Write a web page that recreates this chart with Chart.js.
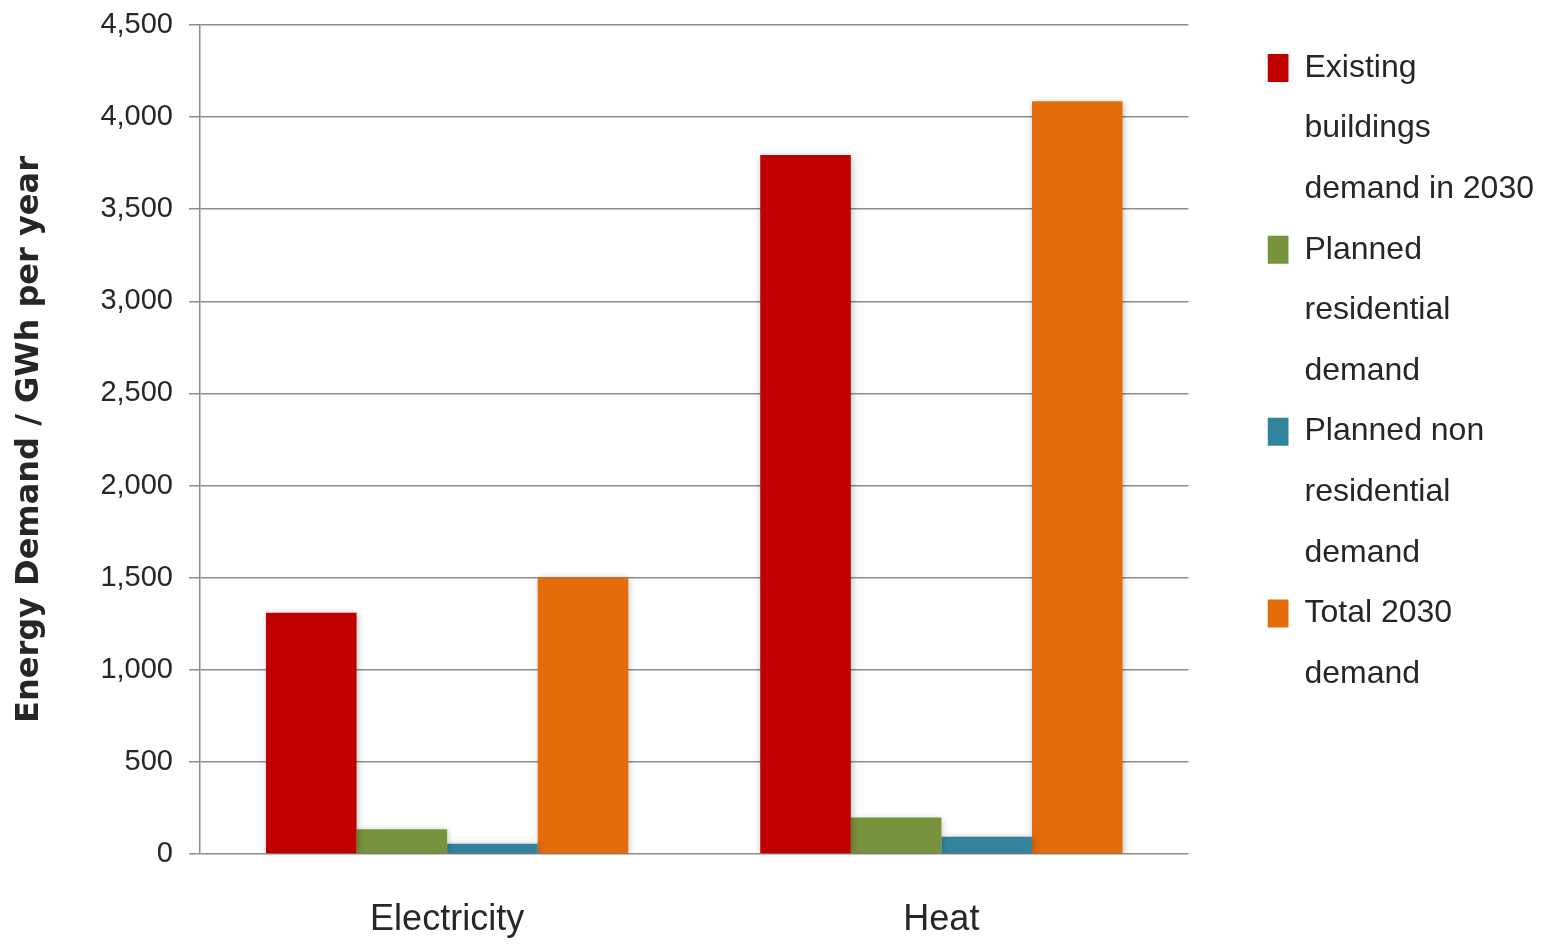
<!DOCTYPE html>
<html>
<head>
<meta charset="utf-8">
<title>Energy Demand 2030</title>
<script src="https://cdn.jsdelivr.net/npm/chart.js@4.4.1/dist/chart.umd.min.js"></script>
<style>
  html, body { margin: 0; padding: 0; background: #ffffff; }
  #wrap { position: relative; width: 1562px; height: 944px; }
</style>
</head>
<body>
<div id="wrap"><canvas id="chart"></canvas></div>
<script>
// Categories along the x axis
const categories = ['Electricity', 'Heat'];

// Series values, GWh per year
const existingBuildings2030 = [1310, 3795];
const plannedResidential = [135, 198];
const plannedNonResidential = [56, 93];
const total2030 = [1501, 4086];

// Series names, and how each one wraps in the legend
const seriesNames = [
  'Existing buildings demand in 2030',
  'Planned residential demand',
  'Planned non residential demand',
  'Total 2030 demand'
];
const legendLines = [
  ['Existing', 'buildings', 'demand in 2030'],
  ['Planned', 'residential', 'demand'],
  ['Planned non', 'residential', 'demand'],
  ['Total 2030', 'demand']
];

// Y axis range and tick spacing
const yMin = 0;
const yMax = 4500;
const yStep = 500;
const yTitle = 'Energy Demand / GWh per year';

const seriesColors = ['#C00000', '#77933C', '#31849B', '#E46C0A'];
const seriesValues = [existingBuildings2030, plannedResidential, plannedNonResidential, total2030];

const gridColor = '#8c8c8c';
const textColor = '#262626';

// Soft drop shadow behind the bars
const barShadow = {
  id: 'barShadow',
  beforeDatasetsDraw(chart) {
    const ctx = chart.ctx;
    ctx.save();
    ctx.shadowColor = 'rgba(0,0,0,0.28)';
    ctx.shadowBlur = 7;
    ctx.shadowOffsetX = 1;
    ctx.shadowOffsetY = 1;
  },
  afterDatasetsDraw(chart) {
    chart.ctx.restore();
  }
};

// Places the legend a little away from the plot, level with the first gridlines
const legendOffset = {
  id: 'legendOffset',
  afterLayout(chart) {
    const lg = chart.legend;
    if (!lg) return;
    const dx = 79, dy = 27;
    lg.left += dx; lg.right += dx;
    lg.top += dy; lg.bottom += dy;
  }
};

const ctx = document.getElementById('chart').getContext('2d');
new Chart(ctx, {
  type: 'bar',
  data: {
    labels: categories,
    datasets: seriesValues.map((vals, i) => ({
      label: seriesNames[i],
      data: vals,
      backgroundColor: seriesColors[i],
      borderWidth: 0,
      categoryPercentage: 0.733,
      barPercentage: 1.0
    }))
  },
  plugins: [barShadow, legendOffset],
  options: {
    responsive: true,
    maintainAspectRatio: false,
    animation: false,
    devicePixelRatio: 1,
    layout: { padding: { top: 25, right: 97, bottom: 0, left: 0 } },
    plugins: {
      tooltip: { enabled: false },
      legend: {
        position: 'right',
        align: 'start',
        labels: {
          boxWidth: 21,
          boxHeight: 28,
          padding: 0,
          color: textColor,
          font: { family: '"Liberation Sans", Arial, sans-serif', size: 32, lineHeight: 1.894 },
          generateLabels(chart) {
            const base = Chart.defaults.plugins.legend.labels.generateLabels(chart);
            return base.map((item, i) => Object.assign({}, item, { text: legendLines[i], lineWidth: 0 }));
          }
        }
      }
    },
    scales: {
      x: {
        grid: { display: false, drawTicks: false },
        border: { display: false },
        ticks: {
          color: textColor,
          padding: 44,
          font: { family: '"Liberation Sans", Arial, sans-serif', size: 36 }
        },
        afterFit(scale) { scale.height = 90; }
      },
      y: {
        min: yMin,
        max: yMax,
        grid: { color: gridColor, lineWidth: 1.5, tickLength: 11, drawTicks: true, tickColor: gridColor },
        border: { display: true, color: gridColor, width: 1.5 },
        ticks: {
          stepSize: yStep,
          padding: 16,
          color: textColor,
          font: { family: '"Liberation Sans", Arial, sans-serif', size: 29 },
          callback: (v) => Number(v).toLocaleString('en-US')
        },
        title: {
          display: true,
          text: yTitle,
          color: textColor,
          padding: { top: 10, bottom: 0 },
          font: { family: '"DejaVu Sans", Verdana, sans-serif', size: 32, weight: 'bold' }
        },
        afterFit(scale) {
          scale.width = 200;
          scale.paddingTop = 0;
          scale.paddingBottom = 0;
        }
      }
    }
  }
});
</script>
</body>
</html>
